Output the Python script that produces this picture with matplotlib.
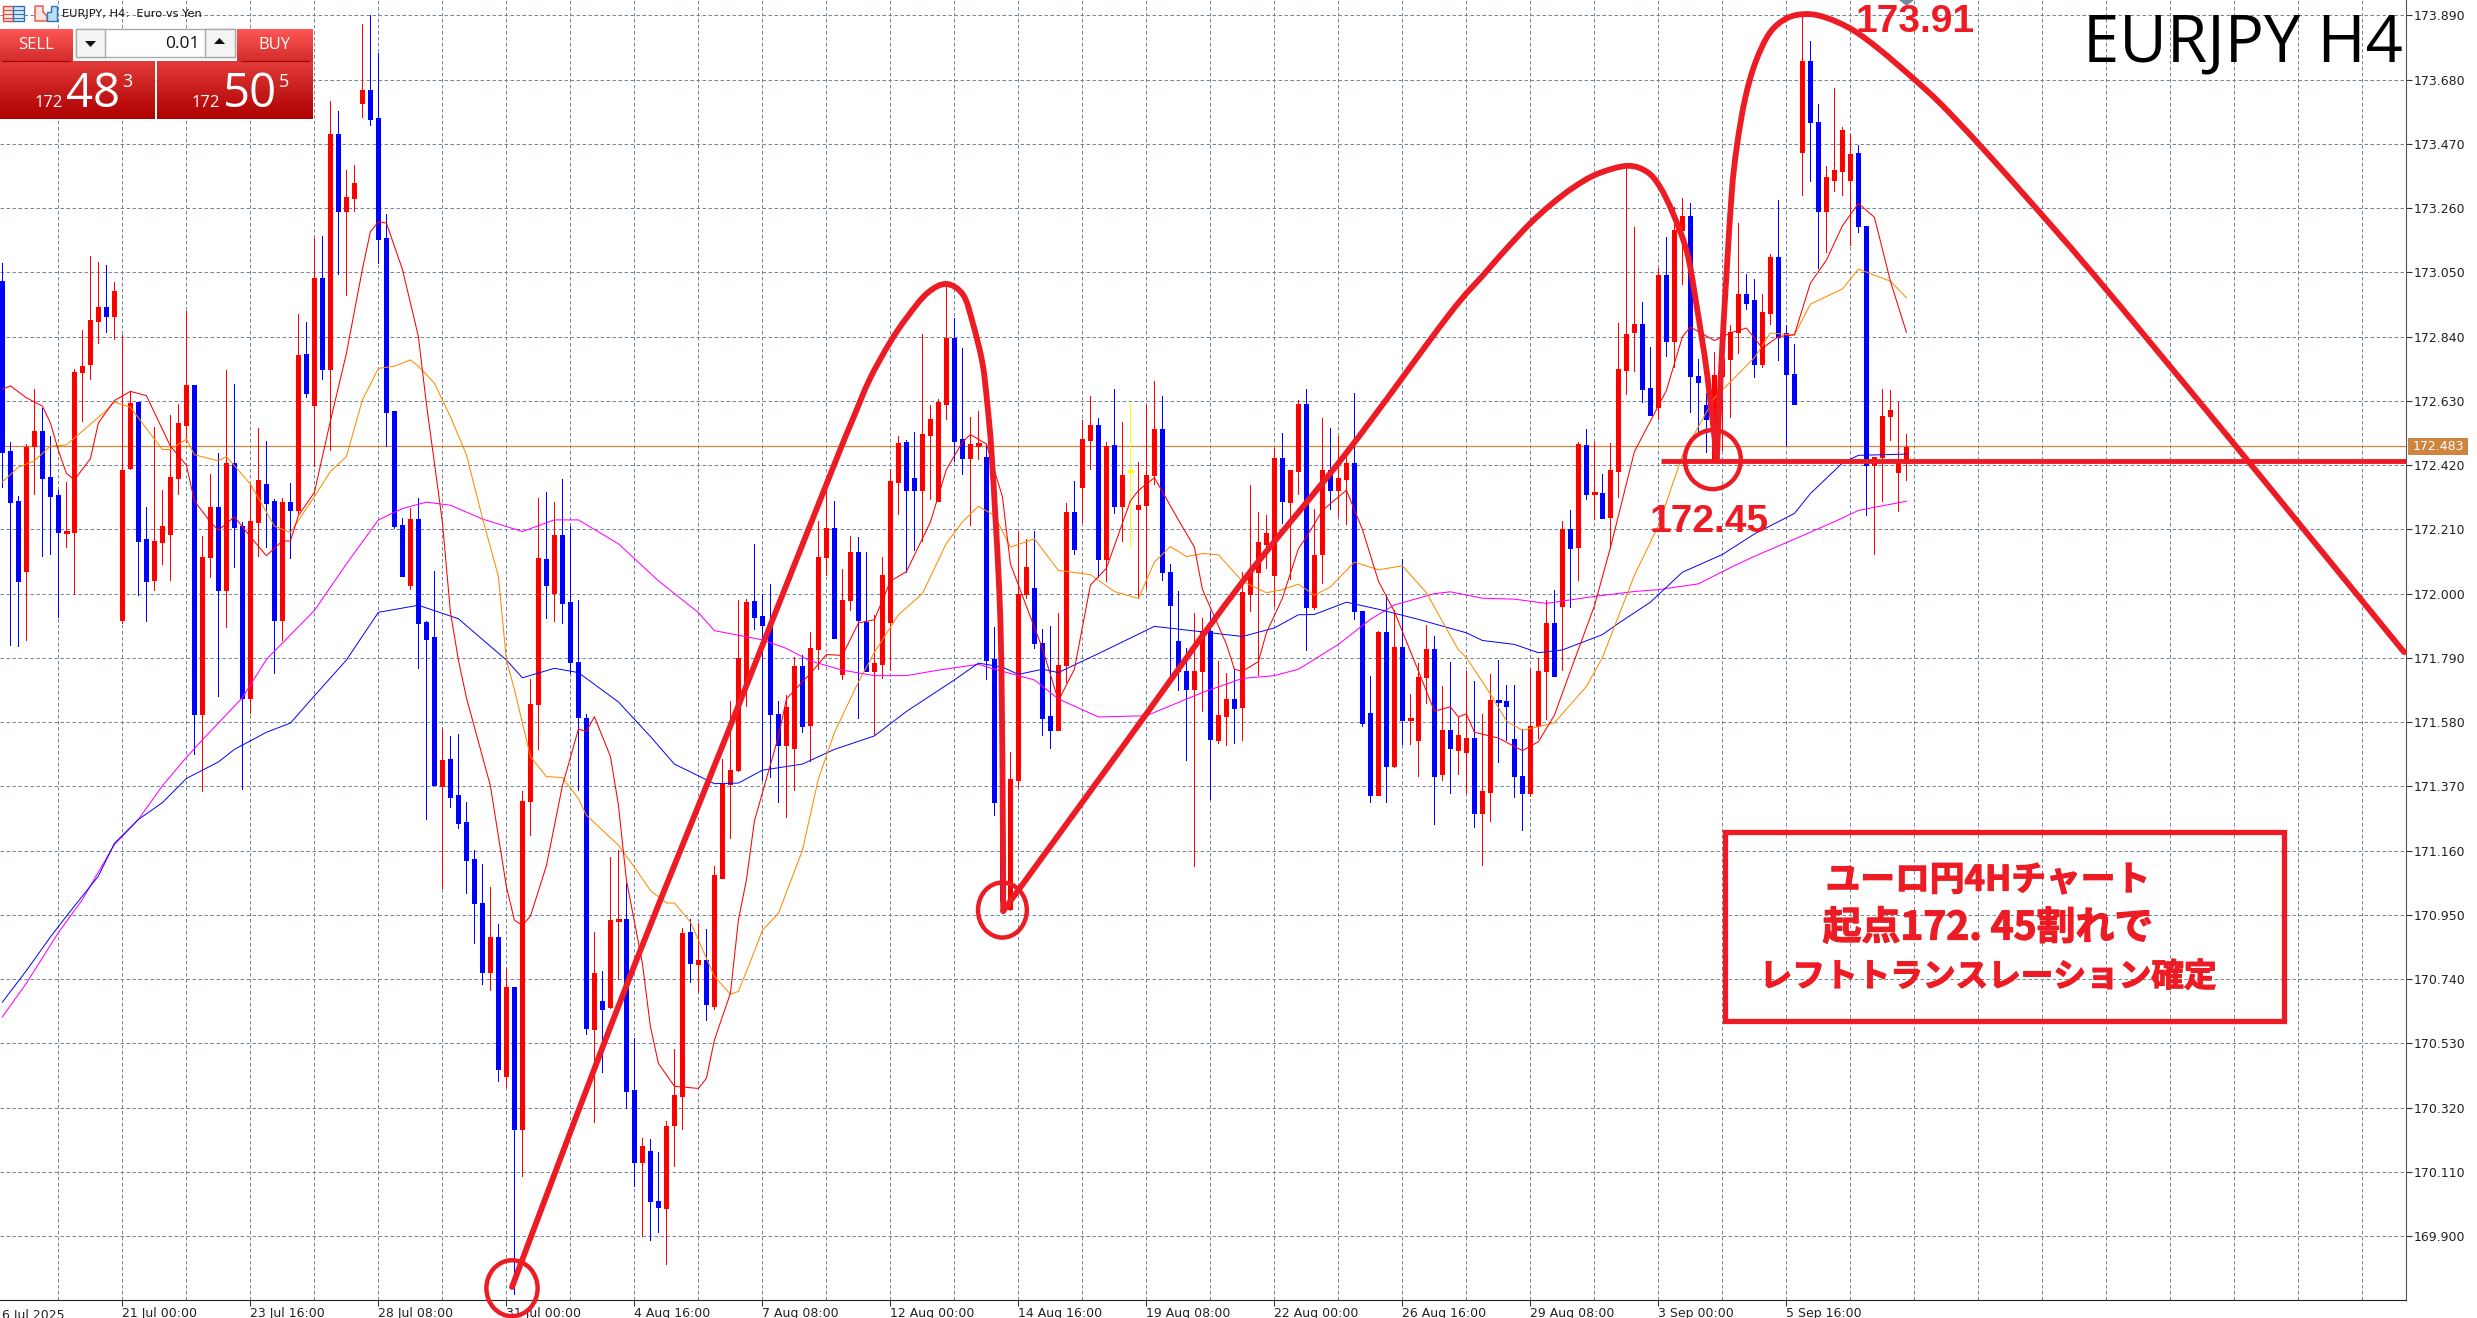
import numpy as np
import matplotlib
matplotlib.use("Agg")
import matplotlib.pyplot as plt
import matplotlib.patheffects as pe
from matplotlib.colors import LinearSegmentedColormap
from matplotlib.patches import Ellipse, Rectangle, Polygon, PathPatch
from matplotlib.path import Path

# candles (4h EURJPY)
opens = [
    173.021, 172.467, 172.303, 172.073, 172.482, 172.531, 172.382, 172.322, 172.198, 172.203,
    172.723, 172.749, 172.892, 172.937, 172.906, 171.914, 172.409, 172.626, 172.178, 172.045,
    172.17, 172.196, 172.379, 172.551, 172.681, 171.607, 172.12, 172.282, 172.012, 172.427,
    172.221, 171.66, 172.234, 172.358, 172.303, 171.914, 172.299, 172.272, 172.782, 172.617,
    173.032, 172.734, 173.503, 173.252, 173.293, 173.602, 173.646, 173.555, 173.163, 172.597,
    172.225, 172.028, 172.244, 171.908, 171.859, 171.372, 171.459, 171.341, 171.254, 171.133,
    170.989, 170.765, 170.878, 170.425, 170.715, 170.251, 171.321, 171.639, 172.113, 172.003,
    172.193, 171.973, 171.776, 171.594, 170.576, 170.668, 170.648, 170.933, 170.937, 170.378,
    170.143, 170.178, 170.015, 169.993, 170.263, 170.358, 170.895, 170.79, 170.803, 170.652,
    171.072, 171.377, 171.425, 171.711, 171.976, 171.926, 171.897, 171.608, 171.505, 171.494,
    171.764, 171.57, 171.819, 172.121, 172.215, 171.739, 171.98, 172.135, 171.908, 171.748,
    171.771, 171.908, 172.365, 172.495, 172.379, 172.34, 172.518, 172.303, 172.62, 172.837,
    172.505, 172.443, 172.482, 172.447, 171.787, 171.319, 170.969, 171.391, 172.0, 172.018,
    171.839, 171.599, 171.553, 171.766, 172.268, 172.348, 172.502, 172.551, 172.113, 172.485,
    172.285, 172.4, 172.275, 172.289, 172.388, 172.538, 172.072, 171.845, 171.746, 171.687,
    171.746, 171.879, 171.521, 171.601, 171.656, 171.628, 172.0, 172.07, 172.163, 172.062,
    172.443, 172.3, 172.401, 172.62, 171.957, 172.131, 172.403, 172.338, 172.376, 172.426,
    171.943, 171.609, 171.343, 171.874, 171.438, 171.824, 171.587, 171.522, 171.728, 171.819,
    171.409, 171.553, 171.49, 171.484, 171.528, 171.284, 171.353, 171.653, 171.649, 171.526,
    171.403, 171.35, 171.569, 171.747, 171.903, 171.96, 172.212, 172.153, 172.485, 172.327,
    172.328, 172.252, 172.402, 172.731, 172.856, 172.88, 172.671, 172.61, 173.04, 172.827,
    173.19, 173.233, 172.712, 172.617, 172.44, 172.71, 172.768, 172.854, 172.98, 172.958,
    172.752, 172.918, 173.1, 172.852, 172.717, 173.442, 173.74, 173.54, 173.252, 173.352,
    173.381, 173.352, 173.44, 173.2, 172.42, 172.445, 172.579, 172.396, 172.427,
]
closes = [
    172.464, 172.3, 172.042, 172.479, 172.531, 172.379, 172.32, 172.2, 172.201, 172.724,
    172.743, 172.895, 172.937, 172.906, 172.99, 172.404, 172.624, 172.172, 172.042, 172.172,
    172.221, 172.382, 172.558, 172.681, 171.607, 172.12, 172.282, 172.012, 172.427, 172.218,
    171.66, 172.237, 172.372, 172.296, 171.914, 172.299, 172.272, 172.78, 172.657, 173.032,
    172.734, 173.503, 173.252, 173.296, 173.342, 173.646, 173.551, 173.159, 172.595, 172.221,
    172.058, 172.244, 171.904, 171.852, 171.374, 171.457, 171.337, 171.251, 171.129, 170.99,
    170.765, 170.878, 170.446, 170.715, 170.251, 171.322, 171.639, 172.115, 172.028, 172.193,
    171.97, 171.776, 171.598, 170.579, 170.76, 170.642, 170.933, 170.935, 170.376, 170.143,
    170.195, 170.016, 169.996, 170.26, 170.361, 170.892, 170.794, 170.803, 170.659, 171.081,
    171.377, 171.425, 171.79, 171.973, 171.925, 171.897, 171.608, 171.505, 171.629, 171.762,
    171.566, 171.821, 172.121, 172.215, 171.856, 171.98, 172.135, 171.914, 171.748, 171.773,
    172.06, 172.369, 172.493, 172.34, 172.34, 172.521, 172.57, 172.627, 172.837, 172.498,
    172.443, 172.489, 172.489, 171.784, 171.319, 170.996, 171.395, 172.0, 172.087, 171.839,
    171.594, 171.553, 171.766, 172.268, 172.146, 172.505, 172.551, 172.113, 172.482, 172.285,
    172.388, 172.4, 172.289, 172.388, 172.538, 172.072, 171.963, 171.746, 171.687, 171.746,
    171.879, 171.526, 171.605, 171.655, 171.625, 172.006, 172.075, 172.17, 172.197, 172.443,
    172.303, 172.403, 172.62, 171.957, 172.126, 172.403, 172.338, 172.378, 172.426, 171.944,
    171.578, 171.343, 171.874, 171.438, 171.824, 171.588, 171.589, 171.728, 171.819, 171.405,
    171.553, 171.494, 171.538, 171.528, 171.284, 171.355, 171.653, 171.648, 171.634, 171.405,
    171.35, 171.569, 171.747, 171.903, 171.732, 172.212, 172.15, 172.489, 172.326, 172.329,
    172.247, 172.404, 172.733, 172.848, 172.88, 172.668, 172.583, 173.04, 172.827, 173.19,
    173.233, 172.712, 172.693, 172.571, 172.714, 172.77, 172.854, 172.98, 172.95, 172.752,
    172.921, 173.1, 172.84, 172.717, 172.619, 173.74, 173.54, 173.252, 173.361, 173.383,
    173.515, 173.437, 173.2, 172.42, 172.445, 172.579, 172.599, 172.427, 172.479,
]
highs = [
    173.08, 172.496, 172.32, 172.489, 172.668, 172.608, 172.514, 172.34, 172.365, 172.734,
    172.86, 173.104, 173.084, 173.073, 173.018, 172.846, 172.661, 172.626, 172.283, 172.545,
    172.338, 172.585, 172.62, 172.925, 172.681, 172.19, 172.391, 172.461, 172.73, 172.686,
    172.234, 172.358, 172.54, 172.498, 172.31, 172.313, 172.362, 172.915, 172.888, 173.163,
    173.17, 173.61, 173.578, 173.383, 173.401, 173.86, 173.89, 173.768, 173.241, 172.597,
    172.248, 172.28, 172.313, 171.911, 172.073, 171.557, 171.536, 171.542, 171.319, 171.163,
    171.117, 171.041, 170.922, 170.778, 170.715, 171.354, 171.721, 172.313, 172.331, 172.299,
    172.376, 172.221, 171.98, 171.607, 170.894, 170.768, 171.138, 171.162, 171.053, 170.549,
    170.222, 170.218, 170.176, 170.276, 170.512, 170.908, 170.937, 170.925, 170.904, 171.109,
    171.46, 171.648, 171.98, 171.982, 172.163, 172.0, 172.03, 171.65, 171.67, 171.794,
    171.8, 171.876, 172.238, 172.34, 172.303, 172.079, 172.19, 172.186, 172.135, 171.929,
    172.119, 172.406, 172.516, 172.502, 172.528, 172.848, 172.616, 172.635, 173.01, 172.9,
    172.802, 172.578, 172.597, 172.49, 171.89, 171.319, 171.484, 172.2, 172.179, 172.204,
    171.883, 171.894, 171.938, 172.296, 172.369, 172.567, 172.646, 172.574, 172.495, 172.668,
    172.56, 172.622, 172.43, 172.616, 172.695, 172.646, 172.097, 172.007, 171.821, 171.938,
    171.92, 171.942, 171.78, 171.742, 171.753, 172.07, 172.356, 172.266, 172.257, 172.475,
    172.525, 172.403, 172.632, 172.669, 172.278, 172.575, 172.541, 172.516, 172.464, 172.656,
    171.943, 171.731, 171.878, 171.997, 171.947, 172.112, 171.672, 171.774, 171.899, 171.862,
    171.699, 171.778, 171.597, 171.747, 171.716, 171.607, 171.737, 171.784, 171.7, 171.703,
    171.559, 171.753, 171.791, 171.978, 172.012, 172.237, 172.272, 172.495, 172.537, 172.495,
    172.391, 172.492, 172.886, 173.402, 173.198, 172.952, 172.806, 173.065, 173.165, 173.265,
    173.292, 173.275, 172.768, 172.656, 172.79, 172.9, 172.877, 173.211, 173.045, 173.027,
    172.98, 173.111, 173.286, 172.877, 172.815, 173.9, 173.806, 173.6, 173.398, 173.652,
    173.525, 173.502, 173.465, 173.2, 172.445, 172.67, 172.667, 172.627, 172.523,
]
lows = [
    172.349, 171.833, 171.829, 171.849, 172.327, 172.124, 172.131, 171.925, 172.152, 172.0,
    172.564, 172.702, 172.819, 172.856, 172.831, 171.904, 172.406, 171.996, 171.911, 172.012,
    172.097, 172.045, 172.324, 172.496, 171.475, 171.355, 172.056, 171.664, 171.89, 172.087,
    171.363, 171.61, 172.124, 172.152, 171.74, 171.849, 172.116, 172.265, 172.643, 172.416,
    172.702, 172.471, 173.046, 172.977, 173.252, 173.559, 173.53, 173.08, 172.482, 172.214,
    172.058, 172.014, 171.756, 171.265, 171.374, 171.038, 171.303, 171.234, 171.022, 170.859,
    170.723, 170.706, 170.408, 170.388, 169.712, 170.096, 171.211, 171.491, 171.922, 171.911,
    171.904, 171.742, 171.358, 170.562, 170.274, 170.436, 170.645, 170.74, 170.32, 170.064,
    169.9, 169.888, 169.915, 169.809, 170.129, 170.25, 170.732, 170.699, 170.606, 170.643,
    171.072, 171.2, 171.42, 171.632, 171.883, 171.39, 171.4, 171.32, 171.27, 171.357,
    171.549, 171.454, 171.753, 172.062, 171.856, 171.722, 171.945, 171.592, 171.748, 171.542,
    171.725, 171.749, 172.259, 172.072, 172.141, 172.172, 172.31, 172.303, 172.57, 172.433,
    172.392, 172.224, 172.44, 171.721, 171.278, 170.97, 170.965, 171.368, 171.986, 171.821,
    171.539, 171.494, 171.553, 171.711, 172.128, 172.234, 172.406, 172.055, 172.041, 172.262,
    172.172, 172.152, 171.986, 172.018, 172.358, 172.046, 171.71, 171.684, 171.457, 171.109,
    171.615, 171.33, 171.512, 171.505, 171.512, 171.522, 171.944, 171.734, 172.085, 171.96,
    172.231, 172.047, 172.325, 171.816, 171.949, 172.035, 172.278, 172.253, 172.226, 171.916,
    171.569, 171.318, 171.343, 171.318, 171.432, 171.509, 171.507, 171.405, 171.644, 171.247,
    171.39, 171.347, 171.409, 171.347, 171.238, 171.112, 171.257, 171.451, 171.522, 171.337,
    171.228, 171.338, 171.528, 171.591, 171.732, 171.749, 171.956, 172.045, 172.31, 172.243,
    172.247, 172.149, 172.317, 172.652, 172.727, 172.627, 172.583, 172.57, 172.777, 172.74,
    173.012, 172.593, 172.533, 172.464, 172.44, 172.47, 172.577, 172.787, 172.93, 172.708,
    172.742, 172.88, 172.764, 172.485, 172.619, 173.302, 173.35, 173.065, 173.117, 173.315,
    173.302, 173.14, 173.183, 172.258, 172.129, 172.304, 172.502, 172.27, 172.373,
]

# moving averages, read at the turning points (candle number, price)
ma_red_x = [0, 1, 3, 5, 6, 7, 8, 9, 11, 12, 14, 16, 18, 21, 23, 24, 26, 27, 29, 31, 33, 35, 36, 37, 39,
            41, 43, 45, 46, 47, 48, 50, 52, 53, 55, 56, 57, 58, 61, 63, 64, 65, 66, 68, 70, 72, 73, 74,
            76, 77, 78, 80, 81, 82, 84, 87, 88, 89, 91, 92, 93, 94, 97, 98, 101, 103, 105, 107, 109,
            111, 113, 116, 118, 120, 121, 123, 125, 126, 127, 130, 132, 134, 136, 138, 141, 142, 144,
            147, 149, 150, 153, 154, 155, 157, 158, 160, 162, 163, 165, 168, 170, 172, 174, 177, 179,
            181, 182, 183, 184, 187, 190, 192, 194, 196, 199, 201, 204, 206, 208, 209, 210, 211, 214,
            216, 218, 220, 222, 224, 226, 228, 230, 232, 234, 236, 238]
ma_red_y = [172.668, 172.679, 172.64, 172.613, 172.558, 172.468, 172.393, 172.372, 172.441, 172.558,
            172.631, 172.661, 172.647, 172.482, 172.42, 172.303, 172.234, 172.207, 172.251, 172.186,
            172.124, 172.172, 172.172, 172.255, 172.331, 172.564, 172.785, 173.06, 173.183, 173.215,
            173.211, 173.06, 172.84, 172.62, 172.234, 171.94, 171.783, 171.66, 171.372, 171.042,
            170.933, 170.916, 170.946, 171.111, 171.372, 171.557, 171.55, 171.598, 171.468, 171.31,
            171.064, 170.792, 170.585, 170.465, 170.39, 170.383, 170.416, 170.541, 170.694, 170.933,
            171.064, 171.257, 171.533, 171.656, 171.739, 171.801, 171.798, 171.904, 171.915, 172.041,
            172.072, 172.234, 172.406, 172.495, 172.52, 172.489, 172.317, 172.097, 172.028, 171.821,
            171.65, 171.753, 172.028, 172.083, 172.303, 172.337, 172.379, 172.241, 172.152, 172.014,
            171.835, 171.753, 171.746, 171.778, 171.872, 171.985, 172.147, 172.185, 172.272, 172.338,
            172.21, 172.041, 171.941, 171.747, 171.616, 171.63, 171.597, 171.607, 171.547, 171.528,
            171.487, 171.516, 171.603, 171.747, 171.96, 172.15, 172.464, 172.564, 172.664, 172.752,
            172.84, 172.871, 172.827, 172.852, 172.868, 172.802, 172.84, 172.846, 173.015, 173.09,
            173.202, 173.275, 173.23, 173.021, 172.854]

ma_orange_x = [0, 2, 4, 6, 8, 13, 14, 16, 20, 21, 23, 24, 27, 28, 31, 34, 36, 39, 41, 43, 45, 47, 49,
               51, 52, 54, 56, 58, 60, 62, 63, 64, 66, 68, 70, 72, 73, 77, 79, 81, 83, 84, 86, 89, 91,
               92, 94, 95, 97, 100, 102, 104, 107, 109, 112, 115, 118, 120, 122, 124, 126, 129, 132,
               136, 139, 142, 144, 146, 148, 150, 152, 155, 158, 160, 162, 164, 166, 169, 172, 175,
               178, 182, 183, 186, 188, 190, 194, 198, 200, 204, 207, 210, 214, 219, 221, 224, 226,
               230, 232, 236, 238]
ma_orange_y = [172.365, 172.413, 172.434, 172.482, 172.486, 172.599, 172.626, 172.609, 172.471, 172.471,
               172.505, 172.454, 172.434, 172.448, 172.358, 172.221, 172.2, 172.317, 172.399, 172.448,
               172.633, 172.736, 172.743, 172.764, 172.743, 172.688, 172.578, 172.454, 172.248, 172.056,
               171.783, 171.687, 171.468, 171.402, 171.399, 171.33, 171.276, 171.178, 171.106, 171.03,
               170.989, 170.989, 170.927, 170.749, 170.691, 170.7, 170.831, 170.9, 170.955, 171.161,
               171.395, 171.546, 171.711, 171.808, 171.931, 172.0, 172.165, 172.234, 172.286, 172.255,
               172.152, 172.179, 172.076, 172.062, 172.007, 171.984, 172.103, 172.154, 172.121, 172.131,
               172.127, 172.04, 172.003, 172.013, 172.031, 171.995, 172.022, 172.103, 172.078, 172.091,
               172.003, 171.816, 171.791, 171.672, 171.584, 171.553, 171.578, 171.697, 171.791, 172.06,
               172.222, 172.452, 172.639, 172.771, 172.852, 172.845, 172.946, 172.996, 173.061, 173.021,
               172.967]

ma_blue_x = [0, 3, 6, 8, 12, 14, 17, 20, 23, 27, 29, 33, 36, 39, 43, 47, 52, 57, 63, 65, 69, 72, 77, 81,
             84, 89, 92, 95, 100, 104, 109, 113, 119, 122, 125, 127, 130, 132, 137, 144, 155, 159, 162,
             164, 168, 172, 177, 183, 185, 189, 192, 195, 200, 202, 206, 210, 215, 219, 224, 226, 230,
             232, 238]
ma_blue_y = [170.665, 170.768, 170.878, 170.946, 171.077, 171.184, 171.262, 171.317, 171.396, 171.45,
             171.491, 171.547, 171.577, 171.666, 171.783, 171.939, 171.962, 171.918, 171.783, 171.725,
             171.756, 171.742, 171.646, 171.533, 171.443, 171.379, 171.381, 171.423, 171.443, 171.491,
             171.535, 171.615, 171.718, 171.773, 171.76, 171.736, 171.753, 171.742, 171.804, 171.893,
             171.86, 171.888, 171.931, 171.932, 171.972, 171.949, 171.916, 171.872, 171.847, 171.834,
             171.807, 171.816, 171.866, 171.903, 171.972, 172.07, 172.128, 172.195, 172.262, 172.327,
             172.427, 172.452, 172.456]

ma_pink_x = [0, 3, 7, 10, 14, 17, 20, 23, 25, 30, 33, 39, 43, 47, 50, 53, 56, 60, 65, 69, 72, 77, 82, 87,
             89, 95, 98, 101, 105, 109, 113, 117, 122, 124, 129, 132, 137, 143, 150, 155, 159, 162, 167,
             171, 174, 179, 181, 185, 189, 193, 199, 204, 207, 212, 216, 219, 224, 229, 232, 238]
ma_pink_y = [170.617, 170.727, 170.892, 171.0, 171.18, 171.262, 171.372, 171.465, 171.522, 171.66,
             171.785, 171.945, 172.097, 172.241, 172.278, 172.299, 172.289, 172.244, 172.203, 172.241,
             172.241, 172.163, 172.042, 171.938, 171.879, 171.849, 171.821, 171.78, 171.75, 171.732,
             171.732, 171.75, 171.769, 171.753, 171.718, 171.656, 171.597, 171.601, 171.677, 171.723,
             171.732, 171.753, 171.834, 171.916, 171.963, 172.0, 172.006, 171.985, 171.982, 171.968,
             171.991, 172.007, 172.013, 172.032, 172.085, 172.122, 172.178, 172.235, 172.272, 172.302]

# hand drawn red curve on top of the chart (candle number, price), three strokes
leg1_x = [63.7, 77.2, 90.5, 103.8, 106.3, 108.4, 110.9, 113.1, 115.6, 118.0, 120.1, 121.3, 122.5, 123.1,
          123.7, 124.7, 125.0, 125.1]
leg1_y = [169.734, 170.665, 171.535, 172.41, 172.57, 172.70, 172.819, 172.904, 172.982, 173.012,
          172.976, 172.884, 172.754, 172.623, 172.437, 171.947, 171.456, 170.963]
leg2_x = [125.1, 139.9, 154.7, 168.0, 180.6, 185.1, 188.1, 190.9, 193.5, 196.3, 199.3, 203.1, 205.6,
          207.2, 208.8, 210.6, 211.8, 213.1, 214.3]
leg2_y = [170.963, 171.495, 172.028, 172.46, 172.904, 173.041, 173.13, 173.208, 173.27, 173.326,
          173.371, 173.398, 173.378, 173.329, 173.244, 173.113, 172.937, 172.715, 172.44]
leg3_x = [214.3, 215.0, 216.1, 216.8, 217.8, 219.1, 220.9, 223.1, 225.6, 228.1, 231.3, 234.7, 238.8,
          242.2, 246.8, 252.2, 261.5, 277.2, 288.7, 300.2]
leg3_y = [172.44, 172.816, 173.286, 173.46, 173.613, 173.734, 173.832, 173.881, 173.894, 173.881,
          173.842, 173.777, 173.685, 173.603, 173.476, 173.319, 173.04, 172.545, 172.177, 171.809]

price_ticks = [173.89, 173.68, 173.47, 173.26, 173.05, 172.84, 172.63, 172.42, 172.21, 172.0,
               171.79, 171.58, 171.37, 171.16, 170.95, 170.74, 170.53, 170.32, 170.11, 169.9]
time_labels = ["21 Jul 00:00", "23 Jul 16:00", "28 Jul 08:00", "31 Jul 00:00", "4 Aug 16:00",
               "7 Aug 08:00", "12 Aug 00:00", "14 Aug 16:00", "19 Aug 08:00", "22 Aug 00:00",
               "26 Aug 16:00", "29 Aug 08:00", "3 Sep 00:00", "5 Sep 16:00"]
last_price = 172.483
neckline = 172.432

W, H = 2477, 1318
RED = "#ED1C24"
GRID = "#778899"
CJK = ["Noto Sans CJK JP", "DejaVu Sans"]


def smooth_stroke(x, y):
    # catmull-rom through the points, so the hand drawn arcs do not look polygonal
    p = np.column_stack([x, y])
    p = np.vstack([p[0], p, p[-1]])
    verts = [p[1]]
    for k in range(1, len(p) - 2):
        verts += [p[k] + (p[k + 1] - p[k - 1]) / 6, p[k + 1] - (p[k + 2] - p[k]) / 6, p[k + 1]]
    codes = [Path.MOVETO] + [Path.CURVE4] * (len(verts) - 1)
    return Path(verts, codes)


fig = plt.figure(figsize=(W / 100, H / 100), dpi=100, facecolor="white")
ax = fig.add_axes([0, 1 - 1300.3 / H, 2405.7 / W, 1300.3 / H])
ax.set_xlim(-0.3, 300.41)
ax.set_ylim(173.94 - 1300.3 / 306, 173.94)

# grid
xs = np.arange(len(opens))
for v in price_ticks:
    ax.axhline(v, color=GRID, lw=0.72, dashes=(3.5, 2.5), zorder=1)
for g in np.arange(7, 300, 8):
    ax.axvline(g, color=GRID, lw=0.72, dashes=(3.5, 2.5), zorder=1)

ax.axhline(last_price, color="#CD853F", lw=0.9, zorder=1.5)

# candles
o = np.array(opens)
c = np.array(closes)
colors = np.where(c > o, "#FF0000", np.where(c < o, "#0000FF", "#FFFF00"))
ax.vlines(xs, lows, highs, colors=colors, lw=0.72, zorder=2, antialiased=False)
ax.vlines(xs, np.minimum(o, c), np.maximum(o, c), colors=colors, lw=3.6, zorder=2.1, antialiased=False, capstyle="butt")
small = np.abs(c - o) < 0.008
ax.hlines(c[small], xs[small] - 0.31, xs[small] + 0.31, colors=colors[small], lw=0.9, zorder=2.1, antialiased=False)

ax.plot(ma_pink_x, ma_pink_y, color="#FF00FF", lw=0.75, zorder=3)
ax.plot(ma_blue_x, ma_blue_y, color="#0000FF", lw=0.7, zorder=3)
ax.plot(ma_orange_x, ma_orange_y, color="#FF8C00", lw=0.75, zorder=3)
ax.plot(ma_red_x, ma_red_y, color="#FF0000", lw=0.75, zorder=3)

# axes
for side in ["left", "top"]:
    ax.spines[side].set_visible(False)
ax.spines["right"].set_color("#555555")
ax.spines["bottom"].set_color("#222222")
ax.yaxis.tick_right()
ax.set_yticks(price_ticks)
ax.set_yticklabels(["%.3f" % v for v in price_ticks], fontsize=9, color="#222222")
ax.tick_params(axis="y", length=4, width=0.8, pad=2, color="#333333")
ax.set_xticks(15 + 16 * np.arange(len(time_labels)))
ax.set_xticklabels(time_labels, fontsize=9, ha="left", color="#222222")
ax.tick_params(axis="x", length=4, width=0.8, pad=1, color="#333333")
ax.text(0, -0.0065, "6 Jul 2025", transform=ax.get_xaxis_transform(), fontsize=9, color="#222222", va="top")

# red markup
for lx, ly in [(leg1_x, leg1_y), (leg2_x, leg2_y), (leg3_x, leg3_y)]:
    ax.add_patch(PathPatch(smooth_stroke(lx, ly), fill=False, ec=RED, lw=4.2, zorder=5, joinstyle="round",
                           capstyle="round", clip_on=False))
ax.plot([207.3, 300.41], [neckline, neckline], color=RED, lw=3.5, zorder=5, solid_capstyle="butt")
for cx, cy, w, h in [(63.7, 169.73, 6.4, 0.183), (125, 170.966, 6.1, 0.18), (213.8, 172.438, 7.0, 0.193)]:
    ax.add_patch(Ellipse((cx, cy), w, h, fill=False, ec=RED, lw=3.2, zorder=5, clip_on=False))

# everything below is placed in figure pixels
ui = fig.add_axes([0, 0, 1, 1])
ui.patch.set_visible(False)
ui.axis("off")

# little grey marker at the top edge
ui.add_patch(Polygon([(1899, 0), (1914, 0), (1906.5, 6)], fc=GRID, ec="none"))

ui.text(1709, 522, "172.45", color=RED, fontsize=28, fontweight="bold", family="Liberation Sans", ha="center", va="center")
ui.text(1915, 22, "173.91", color=RED, fontsize=28, fontweight="bold", family="Liberation Sans", ha="center", va="center")
ui.text(2403, 62, "EURJPY H4", color="black", fontsize=47, family="Open Sans", ha="right", va="baseline")

ui.add_patch(Rectangle((1724.5, 831.5), 559, 189, fill=False, ec=RED, lw=3.8))
heavy = [pe.withStroke(linewidth=0.9, foreground=RED)]
for y, line, size in [(880, "ユーロ円4Hチャート", 25), (928, "起点172. 45割れで", 28), (977, "レフトトランスレーション確定", 23.5)]:
    ui.text(1988, y, line, color=RED, fontsize=size, fontweight="bold", family=CJK, ha="center", va="center",
            path_effects=heavy)

# current price tag
ui.add_patch(Rectangle((2408, 438), 60, 17, fc="#CD853F", ec="none"))
ui.text(2438, 446.5, "172.483", color="white", fontsize=9, ha="center", va="center")


# one click trading panel
def grad(x0, y0, x1, y1, top, bottom):
    cm = LinearSegmentedColormap.from_list("g", [top, bottom])
    ui.imshow(np.linspace(0, 1, 64)[:, None], extent=(x0, x1, y1, y0), cmap=cm, aspect="auto", zorder=6)


grad(0, 29, 73, 61, "#FF5555", "#D42C2C")
grad(237, 29, 313, 61, "#FF5555", "#D42C2C")
grad(0, 61, 155, 119, "#E23A3A", "#AE0000")
grad(157, 61, 313, 119, "#E23A3A", "#AE0000")
ui.add_patch(Rectangle((73, 29), 164, 32, fc="white", ec="none", zorder=6))
ui.add_patch(Rectangle((76, 29), 159, 28, fc="white", ec="#AAAAAA", lw=1, zorder=6.2))
for x0, wd in [(76, 29), (205, 30)]:
    ui.add_patch(Rectangle((x0, 29), wd, 28, fc="#F4F4F4", ec="#AAAAAA", lw=1, zorder=6.3))
ui.add_patch(Polygon([(85, 41), (96, 41), (90.5, 47)], fc="#111111", zorder=6.4))
ui.add_patch(Polygon([(214, 44), (225, 44), (219.5, 38)], fc="#111111", zorder=6.4))
ui.plot([2, 70], [60.5, 60.5], color="#B00000", lw=0.8, zorder=6.4)
ui.plot([241, 309], [60.5, 60.5], color="#B00000", lw=0.8, zorder=6.4)

UI_FONT = "Open Sans"
ui.text(36, 45, "SELL", color="white", fontsize=12, family=UI_FONT, ha="center", va="center", zorder=7)
ui.text(274, 45, "BUY", color="white", fontsize=12, family=UI_FONT, ha="center", va="center", zorder=7)
ui.text(200, 44, "0.01", color="#111111", fontsize=12.5, family=UI_FONT, ha="right", va="center", zorder=7)
for x0, big, small_digit in [(35, "48", "3"), (192, "50", "5")]:
    ui.text(x0, 107, "172", color="white", fontsize=12, family=UI_FONT, va="baseline", zorder=7)
    ui.text(x0 + 31, 107, big, color="white", fontsize=34, family=UI_FONT, va="baseline", zorder=7)
    ui.text(x0 + 87, 87, small_digit, color="white", fontsize=13, family=UI_FONT, va="baseline", zorder=7)

# chart title and the two little icons
for x0, col, wd in [(3, "#E74C3C", 10), (13, "#2E75B6", 11)]:
    ui.add_patch(Rectangle((x0, 6), wd, 15, fc="#FBE3DF" if x0 == 3 else "#D6E8F7", ec=col, lw=1, zorder=6))
for yy in [10, 14, 18]:
    ui.plot([4, 12], [yy, yy], color="#E74C3C", lw=0.8, zorder=6.1)
    ui.plot([14, 23], [yy, yy], color="#2E75B6", lw=0.8, zorder=6.1)
ui.add_patch(Polygon([(35, 6), (43, 6), (43, 12), (47, 16), (47, 21), (35, 21)], fc="#FBE3DF", ec="#E74C3C", lw=1, zorder=6))
ui.add_patch(Polygon([(47, 12), (51, 12), (51, 6), (57, 6), (57, 21), (47, 21)], fc="#BBDDF5", ec="#2E75B6", lw=1, zorder=6))
ui.text(62, 14, "EURJPY, H4:  Euro vs Yen", color="#111111", fontsize=8.2, va="center", zorder=7)

ui.set_xlim(0, W)
ui.set_ylim(H, 0)

fig.savefig("out.png", dpi=100, facecolor="white")
